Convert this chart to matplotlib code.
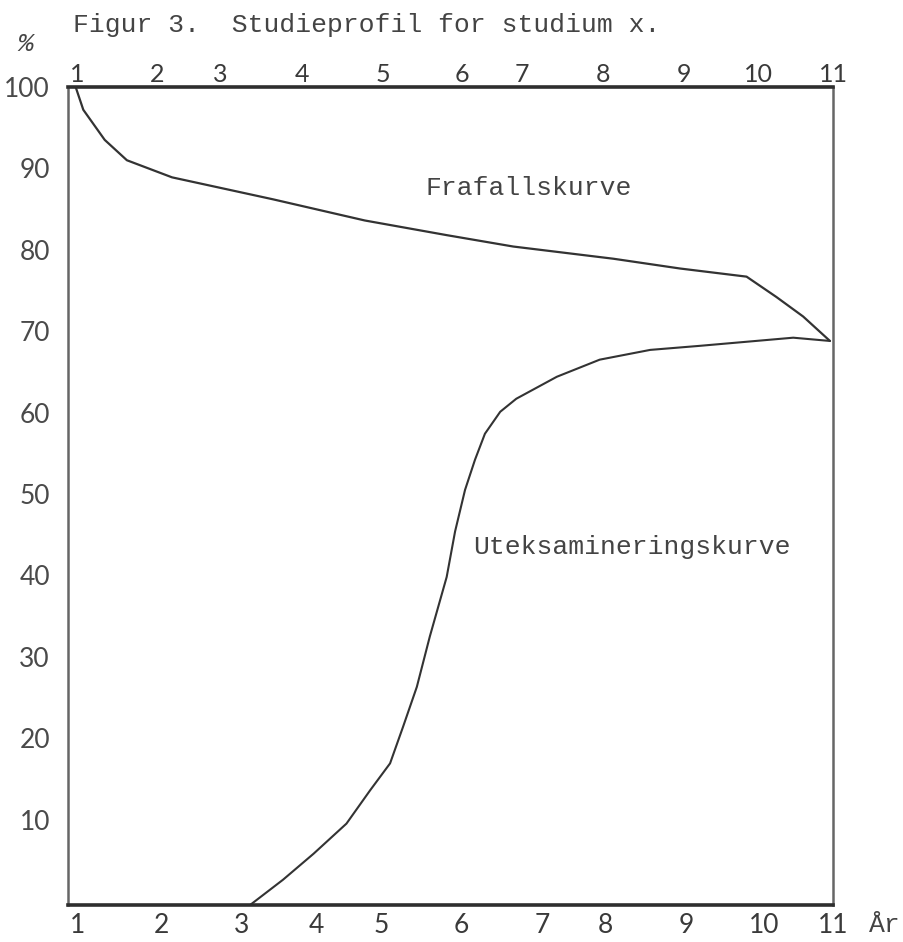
import matplotlib
matplotlib.use("Agg")
import matplotlib.pyplot as plt

# ---- data ----
frafall_x = [1.10, 1.20, 1.48, 1.77, 2.36, 3.68, 4.88, 5.95, 6.82, 8.13, 9.00, 9.87, 10.26, 10.61, 10.96]
frafall_y = [100.0, 97.2, 93.5, 91.0, 88.9, 86.2, 83.6, 81.8, 80.4, 78.9, 77.7, 76.7, 74.2, 71.8, 68.8]

uteks_x = [3.38, 3.81, 4.21, 4.64, 4.95, 5.21, 5.38, 5.56, 5.73, 5.95, 6.06, 6.19, 6.32,
           6.45, 6.65, 6.86, 7.39, 7.95, 8.61, 9.26, 10.48, 10.96]
uteks_y = [-0.5, 2.6, 5.8, 9.5, 13.6, 16.9, 21.4, 26.3, 32.5, 39.8, 45.4, 50.5, 54.2,
           57.4, 60.1, 61.7, 64.4, 66.5, 67.7, 68.2, 69.2, 68.8]

y_ticks = [10, 20, 30, 40, 50, 60, 70, 80, 90, 100]
year_labels = ["1", "2", "3", "4", "5", "6", "7", "8", "9", "10", "11"]
top_label_pos = [1.12, 2.16, 2.99, 4.06, 5.12, 6.15, 6.93, 7.99, 9.05, 10.03, 11.0]
bottom_label_pos = [1.13, 2.22, 3.27, 4.25, 5.09, 6.14, 7.20, 8.02, 9.08, 10.10, 11.0]

title = "Figur 3.  Studieprofil for studium x."
label_frafall = "Frafallskurve"
label_uteks = "Uteksamineringskurve"

# ---- figure ----
W, H = 904, 942
fig = plt.figure(figsize=(W / 100, H / 100), dpi=100)
ax = fig.add_axes([68 / W, 1 - 905 / H, (833 - 68) / W, (905 - 87) / H])
ax.set_xlim(1, 11)
ax.set_ylim(-0.5, 100)

ink = "#333333"
mono = "Liberation Mono"

ax.plot(frafall_x, frafall_y, color=ink, lw=1.6, solid_capstyle="round")
ax.plot(uteks_x, uteks_y, color=ink, lw=1.5, solid_capstyle="round")

for side in ("top", "bottom"):
    ax.spines[side].set_linewidth(2.6)
    ax.spines[side].set_color("#2e2e2e")
for side in ("left", "right"):
    ax.spines[side].set_linewidth(1.8)
    ax.spines[side].set_color("#666666")

ax.set_yticks(y_ticks)
ax.set_yticklabels([str(v) for v in y_ticks], fontfamily="Lato", fontsize=19, color="#4a4a4a")
ax.tick_params(axis="y", length=0, pad=13)

ax.set_xticks(bottom_label_pos)
ax.set_xticklabels(year_labels, fontfamily="Lato", fontsize=19, color="#3a3a3a")
ax.tick_params(axis="x", length=0, pad=6)

top = ax.secondary_xaxis("top")
top.set_xticks(top_label_pos)
top.set_xticklabels(year_labels, fontfamily="Lato", fontsize=18, color="#3a3a3a")
top.tick_params(length=0, pad=1)
top.spines["top"].set_visible(False)

ax.text(5.67, 87.6, label_frafall, fontfamily=mono, fontsize=19, color="#444444",
        ha="left", va="center")
ax.text(6.29, 43.5, label_uteks, fontfamily=mono, fontsize=19, color="#444444",
        ha="left", va="center")

fig.text(73 / W, 1 - 25 / H, title, fontfamily=mono, fontsize=19, color="#444444",
         ha="left", va="center")
fig.text(25 / W, 1 - 44 / H, "%", fontfamily=mono, fontsize=19, style="italic",
         color="#444444", ha="center", va="center")
fig.text(885 / W, 1 - 925 / H, "År", fontfamily=mono, fontsize=19, color="#444444",
         ha="center", va="center")

fig.savefig("out.png", dpi=100)
